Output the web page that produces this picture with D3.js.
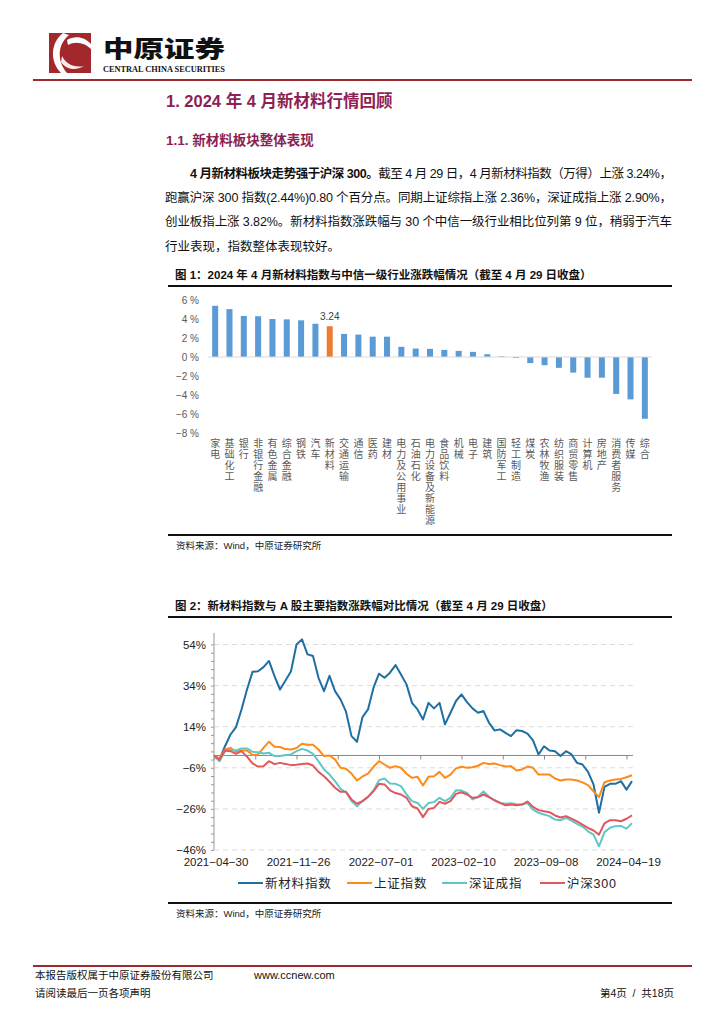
<!DOCTYPE html>
<html><head><meta charset="utf-8">
<script src="https://cdn.jsdelivr.net/npm/d3@7"></script>
<style>body{margin:0;background:#fff}svg{display:block}</style>
</head><body><svg id="page" width="724" height="1024"></svg>
<script>
// ---------- data ----------
const industries = ['家电','基础化工','银行','非银行金融','有色金属','综合金融','钢铁','汽车','新材料','交通运输','通信','医药','建材','电力及公用事业','石油石化','电力设备及新能源','食品饮料','机械','电子','建筑','国防军工','轻工制造','煤炭','农林牧渔','纺织服装','商贸零售','计算机','房地产','消费者服务','传媒','综合'];
const industryChg = [5.39,5.04,4.32,4.29,4.0,3.96,3.86,3.5,3.24,2.43,2.36,2.14,2.14,1.07,0.89,0.86,0.75,0.64,0.54,0.29,0.07,-0.1,-0.64,-0.86,-1.14,-1.64,-2.18,-2.18,-3.89,-4.46,-6.5];
const highlight = '新材料';
const barTicks = [6,4,2,0,-2,-4,-6,-8];

const seriesNames = ['新材料指数','上证指数','深证成指','沪深300'];
const newMaterial = [0,-1.9,4.5,10.2,13.8,22.4,32.1,40.7,41,43,46,38.6,32.1,36.5,41,54,56.5,49.2,48.4,37.8,31.3,38.8,31.3,27.3,21.3,9.4,6.7,18.7,22.4,33,39.8,37.8,40.3,44,39.4,34.6,25.6,22.4,17.5,25.6,22.9,25.6,15.1,20.8,26.5,29.7,26,22.9,20.8,21.6,15.9,12.2,12.7,11,9.4,12.3,11.9,10.6,7.3,0.5,4.5,2.4,2.1,-0.3,2.1,0.5,-3.6,-4.4,-8,-14.1,-27.9,-15.3,-13.8,-13.8,-12.5,-16.6,-12.5];
const shComposite = [0,-1.5,2.9,3.7,1.8,2.4,2.4,0.2,0.5,3.7,6.7,4.2,4.1,3.1,2.9,3.6,5.7,5.2,5.2,2.9,-0.3,0,-1.9,-6,-6.5,-8.8,-12.2,-10.2,-8.8,-5.5,-2.8,-4.4,-6,-5.2,-6,-8.9,-10.9,-10.4,-14.6,-10.4,-10.1,-8,-10.9,-9.3,-6.3,-5.5,-6,-5.7,-5,-3.6,-4.1,-3.9,-4.7,-5.4,-5.2,-7.3,-6.8,-5.4,-6,-9.3,-9.3,-9.3,-11.2,-12.2,-11.7,-11.7,-12.2,-13.1,-14.4,-17.4,-20.3,-13,-12.2,-11.7,-11.4,-10.6,-9.6];
const szComponent = [-0.3,-2.8,2.1,2.8,2.4,3.4,3.4,1.8,1.6,1,1.3,-0.3,-0.3,0.2,0.5,2.1,3.2,2.4,0.8,-2.8,-6.8,-9.3,-12.5,-16.2,-17.9,-22.2,-24.7,-22.2,-20.3,-17,-12,-11.2,-13.6,-13.8,-14.9,-19,-22.2,-23.1,-26,-23.1,-22.7,-20.6,-22.2,-20.6,-16.9,-17.1,-18.2,-21.4,-20.1,-17.5,-20.1,-21.8,-23.1,-23.5,-23.2,-23.7,-23.9,-23.2,-26.3,-27.9,-28.7,-29.5,-31.2,-31.5,-30.4,-31.7,-33.3,-34.6,-36.9,-38.5,-44.2,-37.3,-35.2,-34.4,-34.3,-35.6,-33];
const csi300 = [0,-2.1,2.4,2.1,0.8,2.1,-0.6,-3.9,-5.4,-5.2,-2.8,-4.2,-3.6,-4.1,-4.7,-4.5,-4.2,-3.9,-4.9,-8,-10.1,-12.8,-15.7,-17.7,-17.7,-21.4,-23.5,-22.2,-20.1,-17.4,-13.8,-14.1,-17,-18.3,-19,-20.6,-24.7,-25.8,-30,-26,-25.5,-22.6,-23.5,-22.2,-18.7,-17.9,-19,-20.6,-20.3,-19,-20.3,-21.8,-23.1,-24.2,-23.9,-24.2,-23.9,-22.4,-25,-26.6,-27.1,-27.6,-29.2,-30.2,-29.5,-30.7,-32.1,-33.6,-35.2,-36.5,-38.5,-33,-31.5,-31.5,-32,-30.8,-29.2];
const xTickLabels = ['2021-04-30','2021-11-26','2022-07-01','2023-02-10','2023-09-08','2024-04-19'];
const xTickSamples = [0,15,30,45,60,75];
const lineYTicks = [54,34,14,-6,-26,-46];
const lineColors = ['#1f6fa3','#ff8a17','#5ec8c6','#e2575c'];

// ---------- page ----------
const svg = d3.select('#page');
svg.append('rect').attr('width',724).attr('height',1024).attr('fill','#fff');
const CJK = "'Liberation Sans','Noto Sans CJK SC',sans-serif";

// header logo
const logo = svg.append('g');
logo.append('rect').attr('x',49).attr('y',33).attr('width',42).attr('height',40).attr('fill','#a3282b');
logo.append('path').attr('d','M63,33 C50,43 50,62 61,73 L67,73 C57,61 57,45 69,35 Z').attr('fill','#fff');
logo.append('path').attr('d','M67,40 C75,35 85,37 91,44 L91,49 C84,42 75,41 68,45 Z').attr('fill','#fff');
logo.append('path').attr('d','M62,56 C66,64 74,68 84,66 C76,71 66,70 61,62 Z').attr('fill','#fff').attr('opacity',0.9);
logo.append('text').attr('x',103).attr('y',57).attr('font-family',"'Noto Sans CJK SC'").attr('font-weight',900)
  .attr('font-size',23).attr('textLength',122).attr('lengthAdjust','spacingAndGlyphs').attr('fill','#111').text('中原证券');
logo.append('text').attr('x',103).attr('y',71.5).attr('font-family',"'Liberation Serif',serif").attr('font-weight',700)
  .attr('font-size',7.5).attr('textLength',122).attr('lengthAdjust','spacingAndGlyphs').attr('fill','#111').text('CENTRAL CHINA SECURITIES');
svg.append('line').attr('x1',33).attr('x2',692).attr('y1',80).attr('y2',80).attr('stroke','#9e2a2e').attr('stroke-width',2);

// headings
svg.append('text').attr('x',166).attr('y',107).attr('font-family',CJK).attr('font-weight',700).attr('font-size',16.5)
  .attr('fill','#8e1f52').text('1. 2024 年 4 月新材料行情回顾');
svg.append('text').attr('x',166).attr('y',145).attr('font-family',CJK).attr('font-weight',700).attr('font-size',13.5)
  .attr('fill','#8e1f52').text('1.1. 新材料板块整体表现');

// paragraph
const para = [
  {x:190,y:178,len:482,parts:[['4 月新材料板块走势强于沪深 300。',700],['截至 4 月 29 日，4 月新材料指数（万得）上涨 3.24%，',400]]},
  {x:165,y:202,len:507,parts:[['跑赢沪深 300 指数(2.44%)0.80 个百分点。同期上证综指上涨 2.36%，深证成指上涨 2.90%，',400]]},
  {x:165,y:226,len:507,parts:[['创业板指上涨 3.82%。新材料指数涨跌幅与 30 个中信一级行业相比位列第 9 位，稍弱于汽车',400]]},
  {x:165,y:251,len:null,parts:[['行业表现，指数整体表现较好。',400]]}
];
para.forEach(p=>{
  const t = svg.append('text').attr('x',p.x).attr('y',p.y).attr('font-family',CJK).attr('font-size',12.5).attr('fill','#111');
  if(p.len) t.attr('textLength',p.len).attr('lengthAdjust','spacing');
  p.parts.forEach(([s,w])=>t.append('tspan').attr('font-weight',w).text(s));
});

function figTitle(y, txt){
  svg.append('text').attr('x',175).attr('y',y).attr('font-family',CJK).attr('font-weight',700).attr('font-size',11.5).attr('fill','#111').text(txt);
  svg.append('line').attr('x1',168).attr('x2',672).attr('y1',y+7).attr('y2',y+7).attr('stroke','#111').attr('stroke-width',2);
}
function source(y){
  svg.append('line').attr('x1',168).attr('x2',672).attr('y1',y).attr('y2',y).attr('stroke','#111').attr('stroke-width',2.2);
  svg.append('text').attr('x',176).attr('y',y+14).attr('font-family',CJK).attr('font-size',9.5).attr('fill','#222').text('资料来源：Wind，中原证券研究所');
}

// ---------- figure 1 ----------
figTitle(279,'图 1：2024 年 4 月新材料指数与中信一级行业涨跌幅情况（截至 4 月 29 日收盘）');
const xb = d3.scaleBand().domain(industries).range([208,652]).paddingInner(0.58).paddingOuter(0.29);
const yb = d3.scaleLinear().domain([-8,6]).range([433,300]);
const g1 = svg.append('g');
g1.selectAll('text.yt').data(barTicks).join('text').attr('class','yt')
  .attr('x',199).attr('y',d=>yb(d)+3.5).attr('text-anchor','end').attr('font-family',"'Liberation Sans',sans-serif")
  .attr('font-size',10).attr('fill','#595959').text(d=>(d<0?'−'+(-d):d)+' %');
g1.selectAll('rect.bar').data(industries).join('rect').attr('class','bar')
  .attr('x',d=>xb(d)).attr('width',xb.bandwidth())
  .attr('y',(d,i)=>Math.min(yb(industryChg[i]),yb(0))).attr('height',(d,i)=>Math.abs(yb(industryChg[i])-yb(0)))
  .attr('fill',d=>d===highlight?'#ed7d31':'#5b9bd5');
g1.append('line').attr('x1',208).attr('x2',652).attr('y1',yb(0)).attr('y2',yb(0)).attr('stroke','#d9d9d9').attr('stroke-width',1);
const hi = industries.indexOf(highlight);
g1.append('text').attr('x',xb(highlight)+xb.bandwidth()/2).attr('y',yb(industryChg[hi])-6).attr('text-anchor','middle')
  .attr('font-family',"'Liberation Sans',sans-serif").attr('font-size',10).attr('fill','#404040').text(industryChg[hi].toFixed(2));
g1.selectAll('text.cat').data(industries).join('text').attr('class','cat')
  .attr('x',d=>xb(d)+xb.bandwidth()/2).attr('y',438)
  .style('writing-mode','vertical-rl').style('text-orientation','upright').style('letter-spacing','1px')
  .attr('font-family',"'Noto Sans CJK SC'").attr('font-size',10).attr('fill','#595959').text(d=>d);
source(535);

// ---------- figure 2 ----------
figTitle(610,'图 2：新材料指数与 A 股主要指数涨跌幅对比情况（截至 4 月 29 日收盘）');
const xl = d3.scaleLinear().domain([0,newMaterial.length-1]).range([214,632]);
const yl = d3.scaleLinear().domain([-46,54]).range([850,644.5]);
const g2 = svg.append('g');
g2.selectAll('line.grid').data(lineYTicks).join('line').attr('class','grid')
  .attr('x1',214).attr('x2',633).attr('y1',d=>yl(d)).attr('y2',d=>yl(d))
  .attr('stroke','#dcdcdc').attr('stroke-width',1).attr('stroke-dasharray','5,4');
const yAxis = d3.axisLeft(yl).tickValues(d3.range(-46,55,4)).tickSize(3).tickFormat('');
const ya = g2.append('g').attr('transform','translate(214,0)').call(yAxis);
ya.select('.domain').attr('stroke','#999').attr('d','M0,633V850');
ya.selectAll('.tick line').attr('stroke','#999');
g2.selectAll('text.ylab').data(lineYTicks).join('text').attr('class','ylab')
  .attr('x',206).attr('y',d=>yl(d)+4).attr('text-anchor','end').attr('font-family',"'Liberation Sans',sans-serif")
  .attr('font-size',11.5).attr('fill','#222').text(d=>(d<0?'−'+(-d):d)+'%');
const xAxis = d3.axisBottom(xl).tickValues(d3.range(0,76,7.5)).tickSize(4).tickFormat('');
const xa = g2.append('g').attr('transform',`translate(0,${yl(0)})`).call(xAxis);
xa.select('.domain').attr('stroke','#888').attr('d','M214,0H633');
xa.selectAll('.tick line').attr('stroke','#888');
g2.selectAll('text.xlab').data(xTickSamples).join('text').attr('class','xlab')
  .attr('x',d=>xl(d)+2).attr('y',866).attr('text-anchor','middle').attr('font-family',"'Liberation Sans',sans-serif")
  .attr('font-size',11.5).attr('fill','#222').text((d,i)=>xTickLabels[i].replace(/-/g,'−'));
const allSeries = [newMaterial, shComposite, szComponent, csi300];
const lineGen = d3.line().x((d,i)=>xl(i)).y(d=>yl(d)).curve(d3.curveLinear);
allSeries.forEach((s,i)=>{
  g2.append('path').datum(s).attr('d',lineGen).attr('fill','none').attr('stroke',lineColors[i])
    .attr('stroke-width',2).attr('stroke-linejoin','round');
});
const legX = [238,347,442,540];
seriesNames.forEach((n,i)=>{
  g2.append('line').attr('x1',legX[i]).attr('x2',legX[i]+25).attr('y1',883).attr('y2',883).attr('stroke',lineColors[i]).attr('stroke-width',2);
  g2.append('text').attr('x',legX[i]+27).attr('y',887.5).attr('font-family',CJK).attr('font-size',12.5)
    .style('letter-spacing','0.8px').attr('fill','#222').text(n);
});
source(903);

// ---------- footer ----------
svg.append('line').attr('x1',33).attr('x2',692).attr('y1',966).attr('y2',966).attr('stroke','#9e2a2e').attr('stroke-width',2);
svg.append('text').attr('x',35).attr('y',979).attr('font-family',CJK).attr('font-size',10.5).attr('fill','#111')
  .text('本报告版权属于中原证券股份有限公司');
svg.append('text').attr('x',254).attr('y',979).attr('font-family',"'Liberation Sans',sans-serif").attr('font-size',11).attr('fill','#111')
  .text('www.ccnew.com');
svg.append('text').attr('x',35).attr('y',997).attr('font-family',CJK).attr('font-size',10.5).attr('fill','#111').text('请阅读最后一页各项声明');
svg.append('text').attr('x',674).attr('y',997).attr('text-anchor','end').attr('font-family',CJK).attr('font-size',10.5).attr('fill','#111')
  .style('white-space','pre').text('第4页  /  共18页');
</script></body></html>
